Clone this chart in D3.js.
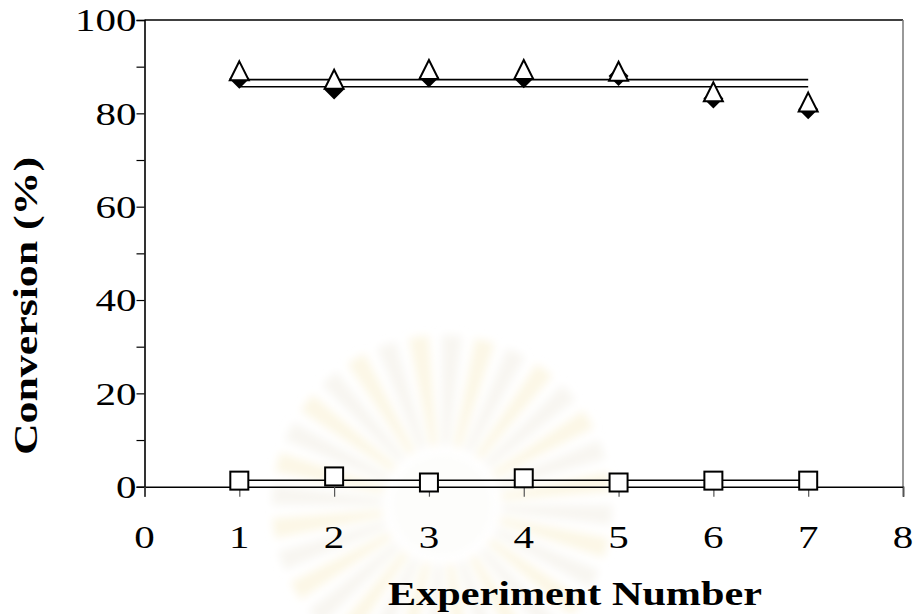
<!DOCTYPE html>
<html>
<head>
<meta charset="utf-8">
<script src="https://cdn.jsdelivr.net/npm/d3@7"></script>
<style>
  html, body { margin: 0; padding: 0; background: #fff; }
  svg { display: block; }
</style>
</head>
<body>
<svg id="chart" width="914" height="614" font-family="'Liberation Serif', 'Times New Roman', serif"></svg>
<script>
// Experiment numbers and measured conversions (%)
const experiments = [1, 2, 3, 4, 5, 6, 7];
const triangleSeries = [89.0, 87.2, 89.3, 89.3, 88.9, 84.5, 82.3];
const diamondSeries  = [87.4, 85.1, 87.7, 87.5, 88.0, 83.2, 80.9];
const squareSeries   = [1.3, 2.2, 0.9, 1.8, 0.9, 1.3, 1.3];

const xTickValues = [0, 1, 2, 3, 4, 5, 6, 7, 8];
const yTickValues = [0, 10, 20, 30, 40, 50, 60, 70, 80, 90, 100];
const yLabelValues = [0, 20, 40, 60, 80, 100];

const xTitle = "Experiment Number";
const yTitle = "Conversion (%)";

const svg = d3.select("#chart");
const plot = { left: 144.5, right: 903, top: 20, bottom: 486.7 };
const widen = 1.28;   // the typeface is set slightly extended

const x = d3.scaleLinear().domain([0, 8]).range([plot.left, plot.right]);
const y = d3.scaleLinear().domain([0, 100]).range([plot.bottom, plot.top]);

// stretch a text selection along its baseline
function extend(sel) {
  sel.each(function () {
    const w = this.getComputedTextLength();
    d3.select(this).attr("textLength", w * widen).attr("lengthAdjust", "spacingAndGlyphs");
  });
}

// faint emblem in the background
const defs = svg.append("defs");
defs.append("filter").attr("id", "soft")
  .append("feGaussianBlur").attr("stdDeviation", 4);
const emblem = svg.append("g")
  .attr("transform", "translate(442,505)")
  .attr("filter", "url(#soft)");
const rays = d3.range(0, 32);
emblem.selectAll("path.ray")
  .data(rays)
  .join("path")
  .attr("class", "ray")
  .attr("d", i => {
    const a0 = (i / 32) * 2 * Math.PI, a1 = a0 + (2 * Math.PI / 32) * 0.6;
    return d3.arc()({ innerRadius: 60, outerRadius: 170, startAngle: a0, endAngle: a1 });
  })
  .attr("fill", (d, i) => i % 2 ? "#fcf7e6" : "#f8f6f1");
emblem.append("circle").attr("r", 50).attr("fill", "#fdfdfb");

// frame: top and right edges
svg.append("line")
  .attr("x1", plot.left).attr("x2", plot.right)
  .attr("y1", plot.top).attr("y2", plot.top)
  .attr("stroke", "#000").attr("stroke-width", 1.5);
svg.append("line")
  .attr("x1", plot.right).attr("x2", plot.right)
  .attr("y1", plot.top).attr("y2", plot.bottom)
  .attr("stroke", "#777").attr("stroke-width", 1.5);

// y axis
const yAxis = d3.axisLeft(y).tickValues(yTickValues).tickSize(8).tickFormat("");
const gy = svg.append("g").attr("transform", `translate(${plot.left},0)`).call(yAxis);
gy.select(".domain").attr("stroke", "#000").attr("stroke-width", 1.6);
gy.selectAll(".tick line").attr("stroke", "#000").attr("stroke-width", 1.2);

svg.append("g").selectAll("text")
  .data(yLabelValues)
  .join("text")
  .attr("x", plot.left - 8)
  .attr("y", d => y(d))
  .attr("dy", "0.35em")
  .attr("text-anchor", "end")
  .attr("font-size", 32)
  .text(d => d)
  .call(extend);

// x axis
const xAxis = d3.axisBottom(x).tickValues(xTickValues).tickSize(10).tickFormat("");
const gx = svg.append("g").attr("transform", `translate(0,${plot.bottom})`).call(xAxis);
gx.select(".domain").attr("stroke", "#000").attr("stroke-width", 1.6);
gx.selectAll(".tick line").attr("stroke", "#555").attr("stroke-width", 1.2);

svg.append("g").selectAll("text")
  .data(xTickValues)
  .join("text")
  .attr("x", d => x(d))
  .attr("y", 548)
  .attr("text-anchor", "middle")
  .attr("font-size", 32)
  .text(d => d)
  .call(extend);

// axis titles
svg.append("text")
  .attr("x", 575).attr("y", 605)
  .attr("text-anchor", "middle")
  .attr("font-size", 33).attr("font-weight", "bold")
  .attr("textLength", 374).attr("lengthAdjust", "spacingAndGlyphs")
  .text(xTitle);

svg.append("text")
  .attr("transform", "translate(37,306) rotate(-90)")
  .attr("text-anchor", "middle")
  .attr("font-size", 34).attr("font-weight", "bold")
  .attr("textLength", 298).attr("lengthAdjust", "spacingAndGlyphs")
  .text(yTitle);

// average lines across experiments
const meanLines = [triangleSeries, diamondSeries, squareSeries].map(s => d3.mean(s));
svg.append("g").selectAll("line")
  .data(meanLines)
  .join("line")
  .attr("x1", x(experiments[0]))
  .attr("x2", x(experiments[experiments.length - 1]))
  .attr("y1", d => y(d)).attr("y2", d => y(d))
  .attr("stroke", "#000").attr("stroke-width", 1.6);

// markers
const pts = s => experiments.map((e, i) => [x(e), y(s[i])]);

svg.append("g").selectAll("path")
  .data(pts(diamondSeries))
  .join("path")
  .attr("d", ([cx, cy]) => `M${cx},${cy - 10}L${cx + 10},${cy}L${cx},${cy + 10}L${cx - 10},${cy}Z`)
  .attr("fill", "#000");

svg.append("g").selectAll("path")
  .data(pts(triangleSeries))
  .join("path")
  .attr("d", ([cx, cy]) => `M${cx},${cy - 10}L${cx + 9.5},${cy + 9}L${cx - 9.5},${cy + 9}Z`)
  .attr("fill", "#fff").attr("stroke", "#000").attr("stroke-width", 2).attr("stroke-linejoin", "miter");

svg.append("g").selectAll("rect")
  .data(pts(squareSeries))
  .join("rect")
  .attr("x", ([cx]) => cx - 9).attr("y", ([, cy]) => cy - 9)
  .attr("width", 18).attr("height", 18)
  .attr("fill", "#fff").attr("stroke", "#000").attr("stroke-width", 2);
</script>
</body>
</html>
